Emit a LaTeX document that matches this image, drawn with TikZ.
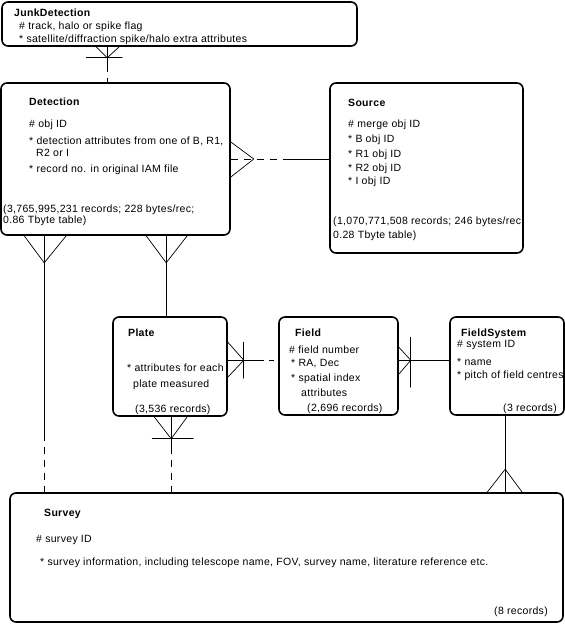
\documentclass[tikz,border=0pt]{standalone}
\usepackage{fontspec}
\setmainfont{Liberation Sans}[LetterSpace=3]
\usetikzlibrary{calc}

\begin{document}
\begin{tikzpicture}[x=1pt, y=-1pt, line join=round, line cap=round,
	font=\fontsize{10.5}{12}\selectfont,
	entity/.style={draw, line width=1.6pt, rounded corners=6pt, inner sep=0pt},
	ttl/.style={anchor=base west, inner sep=0pt, font=\fontsize{10.5}{12}\selectfont\bfseries},
	txt/.style={anchor=base west, inner sep=0pt},
	txtr/.style={anchor=base east, inner sep=0pt},
	link/.style={line width=0.9pt, line cap=butt},
	opt/.style={line width=0.9pt, line cap=butt, dash pattern=on 7pt off 6pt},
	foot/.style={line width=0.7pt}]
	
	\useasboundingbox (0,0) rectangle (565,624);
	
	% Entities
	\node[entity, minimum width=355pt, minimum height=44pt] (junk) at (179.5,24) {};
	\node[entity, minimum width=229pt, minimum height=152pt] (det) at (115.5,159) {};
	\node[entity, minimum width=193pt, minimum height=170pt] (src) at (426.5,168) {};
	\node[entity, minimum width=114pt, minimum height=99pt] (plate) at (170,366.5) {};
	\node[entity, minimum width=119pt, minimum height=98pt] (field) at (338.5,366) {};
	\node[entity, minimum width=114pt, minimum height=98pt] (fsys) at (507,366) {};
	\node[entity, minimum width=553pt, minimum height=129pt] (sur) at (286.5,557.5) {};
	
	% JunkDetection
	\node[ttl] (junkT) at (14,16) {JunkDetection};
	\node[txt] (junkA) at (19,29) {\# track, halo or spike flag};
	\node[txt] (junkB) at (19,42) {* satellite/diffraction spike/halo extra attributes};
	
	% Detection
	\node[ttl] (detT) at (29,105) {Detection};
	\node[txt] (detA) at (29,127) {\# obj ID};
	\node[txt] (detB) at (29,144) {* detection attributes from one of B, R1,};
	\node[txt] (detC) at (36,156) {R2 or I};
	\node[txt] (detD) at (29,172) {* record no. in original IAM file};
	\node[txt] (detE) at (3,212) {(3,765,995,231 records; 228 bytes/rec;};
	\node[txt] (detF) at (3,223) {0.86 Tbyte table)};
	
	% Source
	\node[ttl] (srcT) at (348,106) {Source};
	\node[txt] (srcA) at (348,127) {\# merge obj ID};
	\node[txt] (srcB) at (348,142) {* B obj ID};
	\node[txt] (srcC) at (348,157) {* R1 obj ID};
	\node[txt] (srcD) at (348,171) {* R2 obj ID};
	\node[txt] (srcE) at (348,184) {* I obj ID};
	\node[txt] (srcF) at (333,224) {(1,070,771,508 records; 246 bytes/rec;};
	\node[txt] (srcG) at (333,238) {0.28 Tbyte table)};
	
	% Plate
	\node[ttl] (plateT) at (128,336) {Plate};
	\node[txt] (plateA) at (127,371) {* attributes for each};
	\node[txt] (plateB) at (133,387) {plate measured};
	\node[txt] (plateC) at (135,412) {(3,536 records)};
	
	% Field
	\node[ttl] (fieldT) at (295,336) {Field};
	\node[txt] (fieldA) at (289,353) {\# field number};
	\node[txt] (fieldB) at (291,366) {* RA, Dec};
	\node[txt] (fieldC) at (291,381) {* spatial index};
	\node[txt] (fieldD) at (301,396) {attributes};
	\node[txt] (fieldE) at (307,411) {(2,696 records)};
	
	% FieldSystem
	\node[ttl] (fsysT) at (461,336) {FieldSystem};
	\node[txt] (fsysA) at (457,347) {\# system ID};
	\node[txt] (fsysB) at (457,365) {* name};
	\node[txt] (fsysC) at (457,378) {* pitch of field centres};
	\node[txtr] (fsysD) at (557,411) {(3 records)};
	
	% Survey
	\node[ttl] (surT) at (44,516) {Survey};
	\node[txt] (surA) at (36,542) {\# survey ID};
	\node[txt] (surB) at (40,565) {* survey information, including telescope name, FOV, survey name, literature reference etc.};
	\node[txtr] (surC) at (548,614) {(8 records)};
	
	% JunkDetection -- Detection
	\coordinate (jd) at ($(junk.south west)+(106,0)$);
	\draw[link] (jd) -- ($(jd)+(0,18)$) coordinate (jdm);
	\draw[opt] (jdm) -- (jdm |- det.north);
	\draw[foot] ($(jd)+(-11,0)$) -- ($(jd)+(0,11)$) -- ($(jd)+(12,0)$);
	\draw[foot] ($(jd)+(-21,11)$) -- ($(jd)+(15,11)$);
	
	% Detection -- Source
	\draw[opt] (det.east) -- ($(det.east)+(53,0)$) coordinate (dsm);
	\draw[link] (dsm) -- (dsm -| src.west);
	\draw[foot] ($(det.east)+(0,-17)$) -- ($(det.east)+(23,0)$) -- ($(det.east)+(0,18)$);
	
	% Detection -- Survey
	\coordinate (dv) at ($(det.south west)+(44,0)$);
	\draw[link] (dv) -- ($(dv)+(0,198)$) coordinate (dvm);
	\draw[opt] (dvm) -- (dvm |- sur.north);
	\draw[foot] ($(dv)+(-20,0)$) -- ($(dv)+(0,27)$) -- ($(dv)+(22,0)$);
	
	% Detection -- Plate
	\coordinate (dp) at ($(det.south west)+(166,0)$);
	\draw[link] (dp) -- (dp |- plate.north);
	\draw[foot] ($(dp)+(-20,0)$) -- ($(dp)+(0,27)$) -- ($(dp)+(21,0)$);
	
	% Plate -- Field
	\coordinate (pf) at ($(plate.north east)+(0,44)$);
	\draw[link] (pf) -- ($(pf)+(36,0)$) coordinate (pfm);
	\draw[opt, dash pattern=on 5pt off 5pt, dash phase=5pt] (pfm) -- (pfm -| field.west);
	\draw[foot] ($(pf)+(0,-18)$) -- ($(pf)+(16,0)$) -- ($(pf)+(0,17)$);
	\draw[foot] ($(pf)+(16,-18)$) -- ($(pf)+(16,18)$);
	
	% Field -- FieldSystem
	\coordinate (ff) at ($(field.north east)+(0,44)$);
	\draw[link] (ff) -- (ff -| fsys.west);
	\draw[foot] ($(ff)+(0,-13)$) -- ($(ff)+(12,0)$) -- ($(ff)+(0,14)$);
	\draw[foot] ($(ff)+(12,-23)$) -- ($(ff)+(12,27)$);
	
	% Plate -- Survey
	\coordinate (ps) at ($(plate.south west)+(59,0)$);
	\draw[link] (ps) -- ($(ps)+(0,30)$) coordinate (psm);
	\draw[opt] (psm) -- (psm |- sur.north);
	\draw[foot] ($(ps)+(-17,0)$) -- ($(ps)+(0,22)$) -- ($(ps)+(16,0)$);
	\draw[foot] ($(ps)+(-19,22)$) -- ($(ps)+(22,22)$);
	
	% FieldSystem -- Survey
	\coordinate (fs) at ($(fsys.south west)+(56,0)$);
	\coordinate (fsb) at (fs |- sur.north);
	\draw[link] (fs) -- (fsb);
	\draw[foot] ($(fsb)+(-18,0)$) -- ($(fsb)+(0,-23)$) -- ($(fsb)+(17,0)$);
\end{tikzpicture}
\end{document}
